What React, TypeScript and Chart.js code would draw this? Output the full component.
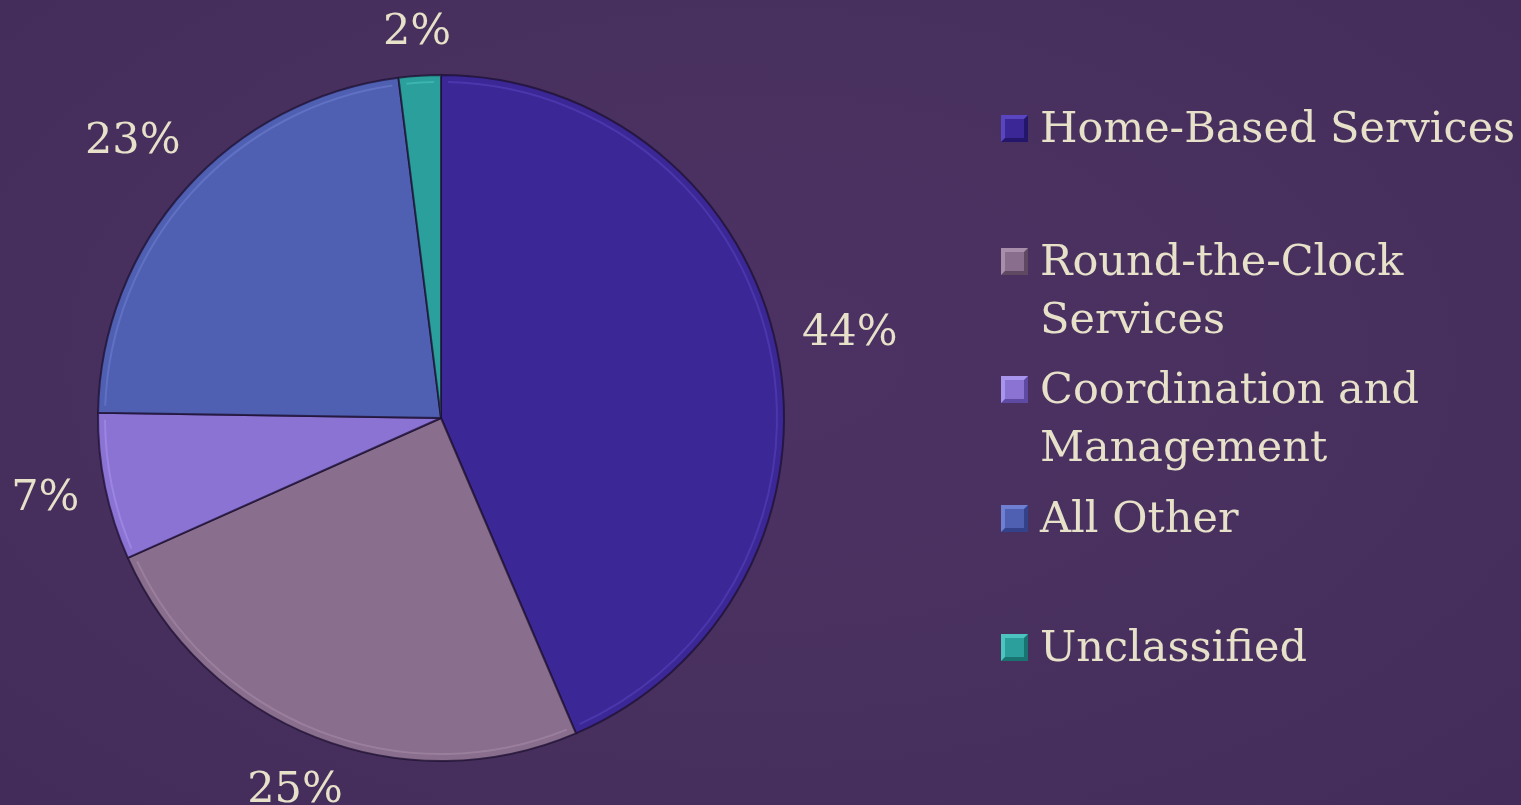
import React, { useEffect, useRef } from "react";
import { Chart, registerables } from "chart.js";

Chart.register(...registerables);

const categories = [
  "Home-Based Services",
  "Round-the-Clock Services",
  "Coordination and Management",
  "All Other",
  "Unclassified",
];
const legendLines = [
  ["Home-Based Services"],
  ["Round-the-Clock", "Services"],
  ["Coordination and", "Management"],
  ["All Other"],
  ["Unclassified"],
];
const values = [44, 25, 7, 23, 2];
const valueLabels = ["44%", "25%", "7%", "23%", "2%"];
const colors = ["#3b2795", "#8a6e8d", "#8a73d3", "#4f5fb1", "#2a9f9b"];
const lightColors = ["#5a45c0", "#a88eab", "#a994ee", "#6f80d2", "#4cc4bf"];
const darkColors = ["#24166a", "#5f4862", "#5e4aa3", "#33428a", "#197370"];

const BG = "#48305e";
const TEXT = "#e7e1ca";
const FONT = "'DejaVu Serif', serif";
const FONT_SIZE = 43;
const legendGaps = [0, 75, 12, 13, 71];

const labelPlugin = {
  id: "outsideLabels",
  afterDatasetsDraw(chart: any) {
    const ctx = chart.ctx;
    const meta = chart.getDatasetMeta(0);
    ctx.save();
    ctx.font = `${FONT_SIZE}px ${FONT}`;
    ctx.fillStyle = TEXT;
    ctx.textAlign = "center";
    ctx.textBaseline = "middle";
    meta.data.forEach((arc: any, i: number) => {
      const p = arc.getProps(["x", "y", "startAngle", "endAngle", "outerRadius"], true);
      const mid = (p.startAngle + p.endAngle) / 2;
      const dx = Math.cos(mid);
      const dy = Math.sin(mid);
      const text = valueLabels[i];
      const w = ctx.measureText(text).width;
      const h = FONT_SIZE * 0.8;
      const d = p.outerRadius + 24 + Math.abs(dx) * w / 2 + Math.abs(dy) * h / 2;
      ctx.fillText(text, p.x + dx * d, p.y + dy * d);
    });
    ctx.restore();
  },
};

const bevelPlugin = {
  id: "bevel",
  afterDatasetsDraw(chart: any) {
    const ctx = chart.ctx;
    const meta = chart.getDatasetMeta(0);
    ctx.save();
    meta.data.forEach((arc: any, i: number) => {
      const p = arc.getProps(["x", "y", "startAngle", "endAngle", "outerRadius"], true);
      const inset = 7;
      const r = p.outerRadius - inset;
      ctx.beginPath();
      ctx.arc(p.x, p.y, r, p.startAngle + inset / r, p.endAngle - inset / r);
      ctx.strokeStyle = lightColors[i];
      ctx.globalAlpha = 0.55;
      ctx.lineWidth = 2;
      ctx.stroke();
    });
    ctx.restore();
  },
};

function Legend() {
  return (
    <div
      style={{
        position: "absolute",
        left: 1001,
        top: 98,
        fontFamily: FONT,
        fontSize: FONT_SIZE,
        color: TEXT,
        lineHeight: "58px",
      }}
    >
      {categories.map((c, i) => (
        <div
          key={c}
          style={{ display: "flex", alignItems: "flex-start", marginTop: legendGaps[i] }}
        >
          <div
            style={{
              width: 19,
              height: 19,
              marginTop: 17,
              marginRight: 12,
              background: colors[i],
              borderStyle: "solid",
              borderWidth: 4,
              borderColor: `${lightColors[i]} ${darkColors[i]} ${darkColors[i]} ${lightColors[i]}`,
              flex: "0 0 auto",
            }}
          />
          <div>
            {legendLines[i].map((l) => (
              <div key={l} style={{ whiteSpace: "nowrap" }}>
                {l}
              </div>
            ))}
          </div>
        </div>
      ))}
    </div>
  );
}

export default function App() {
  const ref = useRef<HTMLCanvasElement>(null);
  useEffect(() => {
    if (!ref.current) return;
    const chart = new Chart(ref.current, {
      type: "pie",
      data: {
        labels: categories,
        datasets: [
          {
            data: values,
            backgroundColor: colors,
            borderColor: "rgba(30,16,50,0.75)",
            borderWidth: 2,
          },
        ],
      },
      options: {
        animation: false,
        responsive: false,
        maintainAspectRatio: false,
        layout: { padding: { left: 97, right: 736, top: 74, bottom: 43 } },
        plugins: {
          legend: { display: false },
          tooltip: { enabled: false },
        },
      },
      plugins: [bevelPlugin, labelPlugin],
    });
    return () => chart.destroy();
  }, []);
  return (
    <div
      style={{
        position: "fixed",
        left: 0,
        top: 0,
        width: 1521,
        height: 805,
        overflow: "hidden",
        background: `radial-gradient(ellipse at 50% 45%, #4c3263 0%, ${BG} 60%, #442c5a 100%)`,
      }}
    >
      <canvas ref={ref} width={1521} height={805} style={{ position: "absolute", left: 0, top: 0 }} />
      <Legend />
    </div>
  );
}
